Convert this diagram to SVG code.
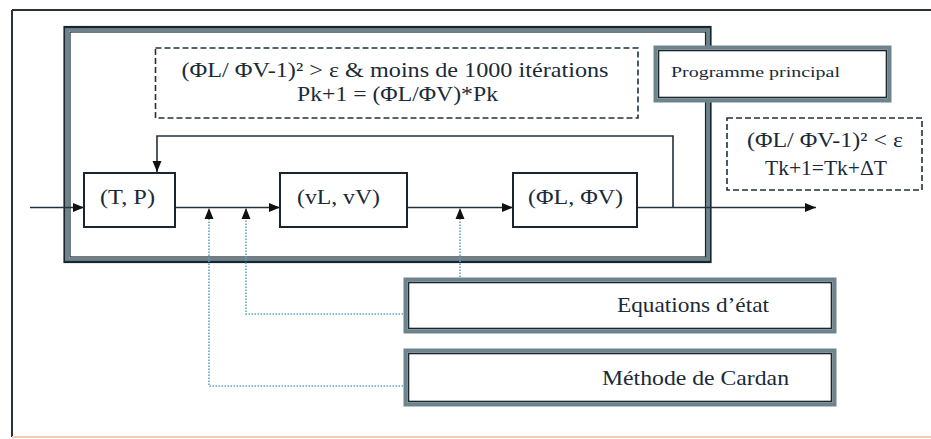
<svg xmlns="http://www.w3.org/2000/svg" width="931" height="439" viewBox="0 0 931 439">
<defs>
<style>
text{font-family:"Liberation Serif","Times New Roman",serif;fill:#1b2a38;}
.ln{fill:none;stroke:#22313b;stroke-width:1.6;}
.dash{fill:#fff;stroke:#22313b;stroke-width:1.6;stroke-dasharray:6 3;}
.dot{fill:none;stroke:#5aa3c8;stroke-width:1.6;stroke-dasharray:1.5 1.5;}
.box{fill:#fff;stroke:#1a262e;stroke-width:2;}
.dblout{fill:#fff;stroke:#6d848c;stroke-width:4;}
.dblin{fill:none;stroke:#1a262e;stroke-width:1.6;}
</style>
<marker id="ah" markerUnits="userSpaceOnUse" markerWidth="12" markerHeight="10" refX="11" refY="4.5" orient="auto">
<path d="M0,0 L11,4.5 L0,9 z" fill="#111"/>
</marker>
</defs>
<rect width="931" height="439" fill="#fff"/>
<g id="frame">
<line x1="12" y1="10" x2="931" y2="10" stroke="#2a3238" stroke-width="2"/>
<line x1="12" y1="10" x2="12" y2="437" stroke="#2a3238" stroke-width="2"/>
<line x1="12" y1="437" x2="931" y2="437" stroke="#f6c9b6" stroke-width="2"/>
</g>
<g id="main-box">
<rect x="67.5" y="29.5" width="640" height="230" fill="none" stroke="#6d848c" stroke-width="3"/>
<rect x="64.5" y="27" width="646" height="235" fill="none" stroke="#1a262e" stroke-width="2.2"/>
<rect x="70" y="32" width="635.5" height="225" fill="none" stroke="#1a262e" stroke-width="1.2"/>
</g>
<g id="cond-loop">
<rect class="dash" x="155.5" y="48" width="482.5" height="70"/>
<text x="395" y="77" font-size="21" text-anchor="middle" textLength="427" lengthAdjust="spacingAndGlyphs">(ΦL/ ΦV-1)² &gt; ε &amp; moins de 1000 itérations</text>
<text x="397.5" y="101" font-size="21" text-anchor="middle" textLength="201" lengthAdjust="spacingAndGlyphs">Pk+1 = (ΦL/ΦV)*Pk</text>
</g>
<g id="programme-principal">
<rect class="dblout" x="655.5" y="47.5" width="234" height="53"/>
<rect class="dblin" x="658.5" y="50.5" width="228" height="47"/>
<text x="671" y="77" font-size="15" textLength="169" lengthAdjust="spacingAndGlyphs">Programme principal</text>
</g>
<g id="cond-exit">
<rect class="dash" x="727" y="118" width="195" height="72"/>
<text x="825" y="147" font-size="21" text-anchor="middle" textLength="156" lengthAdjust="spacingAndGlyphs">(ΦL/ ΦV-1)² &lt; ε</text>
<text x="826" y="175" font-size="21" text-anchor="middle" textLength="122" lengthAdjust="spacingAndGlyphs">Tk+1=Tk+ΔT</text>
</g>
<g id="connectors">
<polyline class="ln" points="673,207.5 673,136 157,136 157,172" marker-end="url(#ah)"/>
<line class="ln" x1="30" y1="207.5" x2="84" y2="207.5" marker-end="url(#ah)"/>
<line class="ln" x1="175" y1="207.5" x2="280" y2="207.5" marker-end="url(#ah)"/>
<line class="ln" x1="407" y1="207.5" x2="513" y2="207.5" marker-end="url(#ah)"/>
<line class="ln" x1="637" y1="207.5" x2="816" y2="207.5" marker-end="url(#ah)"/>
<polyline class="dot" points="403,386 209,386 209,209"/>
<polyline class="dot" points="403,314 246,314 246,209"/>
<line class="dot" x1="460" y1="277" x2="460" y2="209"/>
<path d="M209,208 L213.5,219 L204.5,219 z" fill="#111"/>
<path d="M246,208 L250.5,219 L241.5,219 z" fill="#111"/>
<path d="M460,208 L464.5,219 L455.5,219 z" fill="#111"/>
</g>
<g id="tp">
<rect class="box" x="84" y="173" width="91" height="54"/>
<text x="127.5" y="204" font-size="22" text-anchor="middle" textLength="55" lengthAdjust="spacingAndGlyphs">(T, P)</text>
</g>
<g id="vlvv">
<rect class="box" x="280" y="173" width="127" height="54"/>
<text x="338.5" y="204" font-size="22" text-anchor="middle" textLength="83" lengthAdjust="spacingAndGlyphs">(vL, vV)</text>
</g>
<g id="phi">
<rect class="box" x="513" y="173" width="124" height="54"/>
<text x="575.5" y="204" font-size="22" text-anchor="middle" textLength="95" lengthAdjust="spacingAndGlyphs">(ΦL, ΦV)</text>
</g>
<g id="equations">
<rect class="dblout" x="405.5" y="279.5" width="429" height="52"/>
<rect class="dblin" x="408.5" y="282.5" width="423" height="46"/>
<text x="617" y="312" font-size="22" textLength="152" lengthAdjust="spacingAndGlyphs">Equations d’état</text>
</g>
<g id="cardan">
<rect class="dblout" x="405.5" y="350.5" width="429" height="54"/>
<rect class="dblin" x="408.5" y="353.5" width="423" height="48"/>
<text x="602" y="385" font-size="22" textLength="187" lengthAdjust="spacingAndGlyphs">Méthode de Cardan</text>
</g>
</svg>
